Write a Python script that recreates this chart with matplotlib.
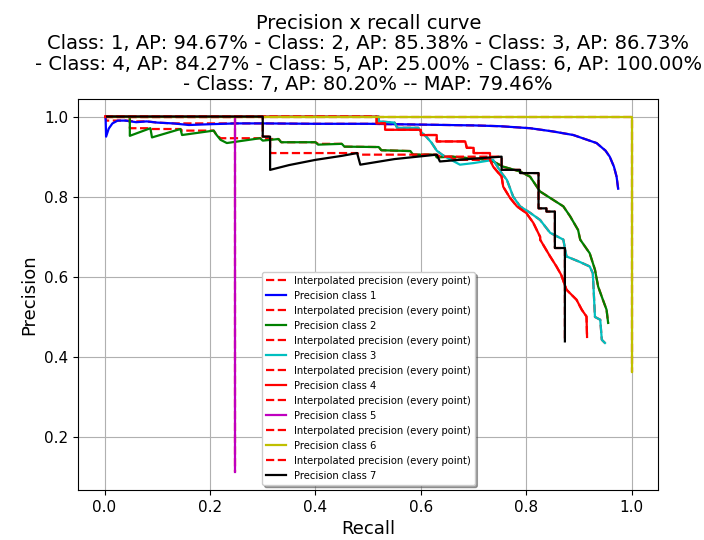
"""
Precision x recall curves for 7 classes, with every-point interpolated precision
"""
import numpy as np
import matplotlib
matplotlib.use('Agg')
import matplotlib.pyplot as plt

# values (recall, precision)
rec_1 = [0.002, 0.003, 0.008, 0.015, 0.025, 0.04, 0.06, 0.08, 0.10, 0.13, 0.16, 0.20, 0.25,
         0.30, 0.40, 0.50, 0.60, 0.70, 0.75, 0.807, 0.85, 0.889, 0.933, 0.95, 0.958, 0.966,
         0.971, 0.974]
prec_1 = [1.0, 0.95, 0.97, 0.983, 0.99, 0.99, 0.986, 0.988, 0.985, 0.983, 0.979, 0.981, 0.983,
          0.983, 0.982, 0.982, 0.980, 0.978, 0.976, 0.971, 0.963, 0.954, 0.934, 0.915, 0.90, 0.875,
          0.85, 0.82]

rec_2 = [0.005, 0.048, 0.048, 0.087, 0.090, 0.144, 0.147, 0.207, 0.212, 0.22, 0.232, 0.295,
         0.30, 0.33, 0.335, 0.40, 0.405, 0.45, 0.455, 0.52, 0.525, 0.58, 0.585, 0.627, 0.63,
         0.66, 0.70, 0.731, 0.756, 0.788, 0.807, 0.826, 0.851, 0.87, 0.883, 0.898, 0.902, 0.92,
         0.93, 0.936, 0.945, 0.952, 0.955]
prec_2 = [1.0, 1.0, 0.952, 0.971, 0.948, 0.969, 0.954, 0.965, 0.955, 0.942, 0.934, 0.946,
          0.94, 0.944, 0.936, 0.936, 0.93, 0.932, 0.925, 0.924, 0.916, 0.914, 0.905, 0.905, 0.898,
          0.90, 0.895, 0.892, 0.875, 0.863, 0.850, 0.813, 0.792, 0.776, 0.751, 0.717, 0.693, 0.659,
          0.618, 0.576, 0.543, 0.518, 0.485]

rec_3 = [0.005, 0.52, 0.52, 0.55, 0.555, 0.595, 0.60, 0.61, 0.62, 0.63, 0.64, 0.65, 0.674,
         0.70, 0.737, 0.753, 0.763, 0.775, 0.788, 0.807, 0.826, 0.845, 0.87, 0.876, 0.90, 0.92,
         0.926, 0.93, 0.94, 0.943, 0.949]
prec_3 = [1.0, 1.0, 0.988, 0.985, 0.972, 0.972, 0.962, 0.95, 0.935, 0.915, 0.905, 0.897, 0.88,
          0.884, 0.892, 0.859, 0.842, 0.80, 0.776, 0.76, 0.742, 0.71, 0.693, 0.651, 0.638, 0.626,
          0.609, 0.50, 0.493, 0.443, 0.435]

rec_4 = [0.005, 0.516, 0.516, 0.532, 0.532, 0.60, 0.60, 0.63, 0.63, 0.684, 0.687, 0.70, 0.70,
         0.731, 0.731, 0.737, 0.753, 0.756, 0.769, 0.782, 0.80, 0.813, 0.826, 0.826, 0.845, 0.857,
         0.866, 0.876, 0.895, 0.905, 0.914, 0.915]
prec_4 = [1.0, 1.0, 0.983, 0.983, 0.967, 0.967, 0.954, 0.954, 0.938, 0.938, 0.922, 0.922, 0.909,
          0.909, 0.892, 0.875, 0.85, 0.825, 0.797, 0.776, 0.759, 0.735, 0.70, 0.693, 0.651, 0.626,
          0.605, 0.568, 0.543, 0.518, 0.501, 0.45]

rec_5 = [0.248, 0.248, 0.248, 0.248, 0.248, 0.248, 0.248, 0.248, 0.248]
prec_5 = [1.0, 0.5, 0.333, 0.25, 0.2, 0.167, 0.143, 0.125, 0.113]

rec_6 = [0.005, 1.0, 1.0]
prec_6 = [1.0, 1.0, 0.363]

rec_7 = [0.005, 0.30, 0.30, 0.314, 0.314, 0.35, 0.40, 0.45, 0.479, 0.485, 0.55, 0.63, 0.636,
         0.70, 0.753, 0.753, 0.788, 0.788, 0.823, 0.823, 0.838, 0.838, 0.854, 0.854, 0.873, 0.873]
prec_7 = [1.0, 1.0, 0.95, 0.95, 0.867, 0.879, 0.892, 0.902, 0.909, 0.88, 0.894, 0.905, 0.888,
          0.895, 0.90, 0.867, 0.867, 0.859, 0.859, 0.771, 0.771, 0.763, 0.763, 0.672, 0.672, 0.439]

classes = ['1', '2', '3', '4', '5', '6', '7']
ap_values = [94.67, 85.38, 86.73, 84.27, 25.00, 100.00, 80.20]
map_value = 79.46
recalls = [rec_1, rec_2, rec_3, rec_4, rec_5, rec_6, rec_7]
precisions = [prec_1, prec_2, prec_3, prec_4, prec_5, prec_6, prec_7]
colors = ['b', 'g', 'c', 'r', 'm', 'y', 'k']


def interpolate(rec, prec):
    """Every-point interpolation: precision is the max of all precisions to the right"""
    mrec = np.concatenate([[0.0], rec])
    mpre = np.concatenate([[max(prec)], prec])
    mpre = np.maximum.accumulate(mpre[::-1])[::-1]
    return mrec, mpre


fig = plt.figure(figsize=(7.04, 5.4), dpi=100)
ax = fig.add_axes([0.111, 0.093, 0.824, 0.724])

for cls, rec, prec, col in zip(classes, recalls, precisions, colors):
    mrec, mpre = interpolate(np.array(rec), np.array(prec))
    ax.plot(mrec, mpre, '--r', lw=1.6, label='Interpolated precision (every point)')
    ax.plot(rec, prec, color=col, lw=1.6, label='Precision class %s' % cls)

parts = ['Class: %s, AP: %.2f%%' % (c, a) for c, a in zip(classes, ap_values)]
title = ('Precision x recall curve\n'
         + ' - '.join(parts[:3]) + '\n- ' + ' - '.join(parts[3:6])
         + '\n- ' + parts[6] + ' -- MAP: %.2f%%' % map_value)
ax.set_title(title, fontsize=14, linespacing=1.1)
ax.set_xlabel('Recall', fontsize=13)
ax.set_ylabel('Precision', fontsize=13)
ax.tick_params(labelsize=11)
ax.grid(True)
ax.legend(loc='lower center', fontsize=7.2, shadow=True, labelspacing=0.5)

plt.savefig('out.png', dpi=100)
